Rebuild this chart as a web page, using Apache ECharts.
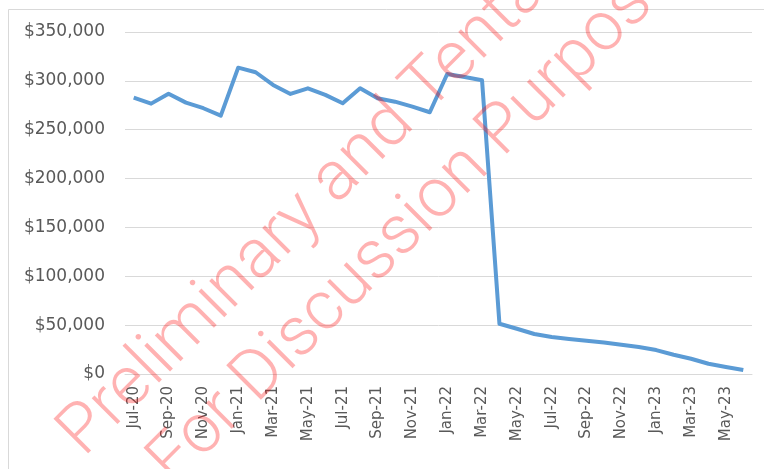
<!DOCTYPE html>
<html>
<head>
<meta charset="utf-8">
<script src="https://cdn.jsdelivr.net/npm/echarts@6/dist/echarts.min.js"></script>
<style>
  html, body { margin: 0; padding: 0; background: #fff; }
  #main { width: 764px; height: 469px; }
</style>
</head>
<body>
<div id="main"></div>
<script>
// months Jul-20 .. Jun-23
var months = ['Jul-20','Aug-20','Sep-20','Oct-20','Nov-20','Dec-20',
    'Jan-21','Feb-21','Mar-21','Apr-21','May-21','Jun-21',
    'Jul-21','Aug-21','Sep-21','Oct-21','Nov-21','Dec-21',
    'Jan-22','Feb-22','Mar-22','Apr-22','May-22','Jun-22',
    'Jul-22','Aug-22','Sep-22','Oct-22','Nov-22','Dec-22',
    'Jan-23','Feb-23','Mar-23','Apr-23','May-23','Jun-23'];

var amounts = [282800, 276700, 286900, 277700, 272000, 264400,
    313500, 308800, 295800, 286600, 292400, 285600,
    277100, 292400, 282200, 278700, 273600, 267900,
    307000, 304000, 300600, 51400, 46300, 40900,
    37800, 35800, 34000, 32300, 30000, 27600,
    24500, 19700, 15600, 10500, 7200, 4100];

var watermarkLines = ['Preliminary and Tentative', 'For Discussion Purposes'];

var labelFont = 'DejaVu Sans';
var markColor = 'rgba(255, 0, 0, 0.3)';

var myChart = echarts.init(document.getElementById('main'));

var option = {
    backgroundColor: '#fff',
    animation: false,
    grid: {
        left: 125,
        right: 12,
        top: 32,
        bottom: 95
    },
    xAxis: {
        type: 'category',
        data: months,
        boundaryGap: true,
        axisLine: { lineStyle: { color: '#d9d9d9', width: 1 } },
        axisTick: { interval: 1, length: 5, lineStyle: { color: '#d9d9d9' } },
        axisLabel: {
            interval: 1,
            rotate: 90,
            margin: 12,
            color: '#595959',
            fontSize: 15,
            fontFamily: labelFont
        }
    },
    yAxis: {
        type: 'value',
        min: 0,
        max: 350000,
        interval: 50000,
        axisLine: { show: false },
        axisTick: { show: false },
        splitLine: { lineStyle: { color: '#d9d9d9', width: 1 } },
        axisLabel: {
            margin: 20,
            color: '#595959',
            fontSize: 17,
            fontFamily: labelFont,
            formatter: function (v) {
                return '$' + v.toLocaleString('en-US');
            }
        }
    },
    series: [{
        type: 'line',
        data: amounts,
        symbol: 'none',
        lineStyle: { color: '#5b9bd5', width: 4, join: 'round' },
        z: 2
    }],
    graphic: [
        {
            type: 'rect',
            z: -10,
            shape: { x: 8.5, y: 9.5, width: 800, height: 500 },
            style: { fill: 'none', stroke: '#d9d9d9', lineWidth: 1 }
        },
        // 水印
        {
            type: 'text',
            z: 100,
            x: 96, y: 470,
            rotation: Math.PI / 4,
            style: {
                text: watermarkLines[0],
                fontSize: 69,
                fontFamily: 'Roboto',
                fontWeight: 300,
                fill: markColor,
                textAlign: 'left',
                textVerticalAlign: 'bottom'
            }
        },
        {
            type: 'text',
            z: 100,
            x: 186, y: 499,
            rotation: Math.PI / 4,
            style: {
                text: watermarkLines[1],
                fontSize: 69,
                fontFamily: 'Roboto',
                fontWeight: 300,
                fill: markColor,
                textAlign: 'left',
                textVerticalAlign: 'bottom'
            }
        }
    ]
};

myChart.setOption(option);
</script>
</body>
</html>
